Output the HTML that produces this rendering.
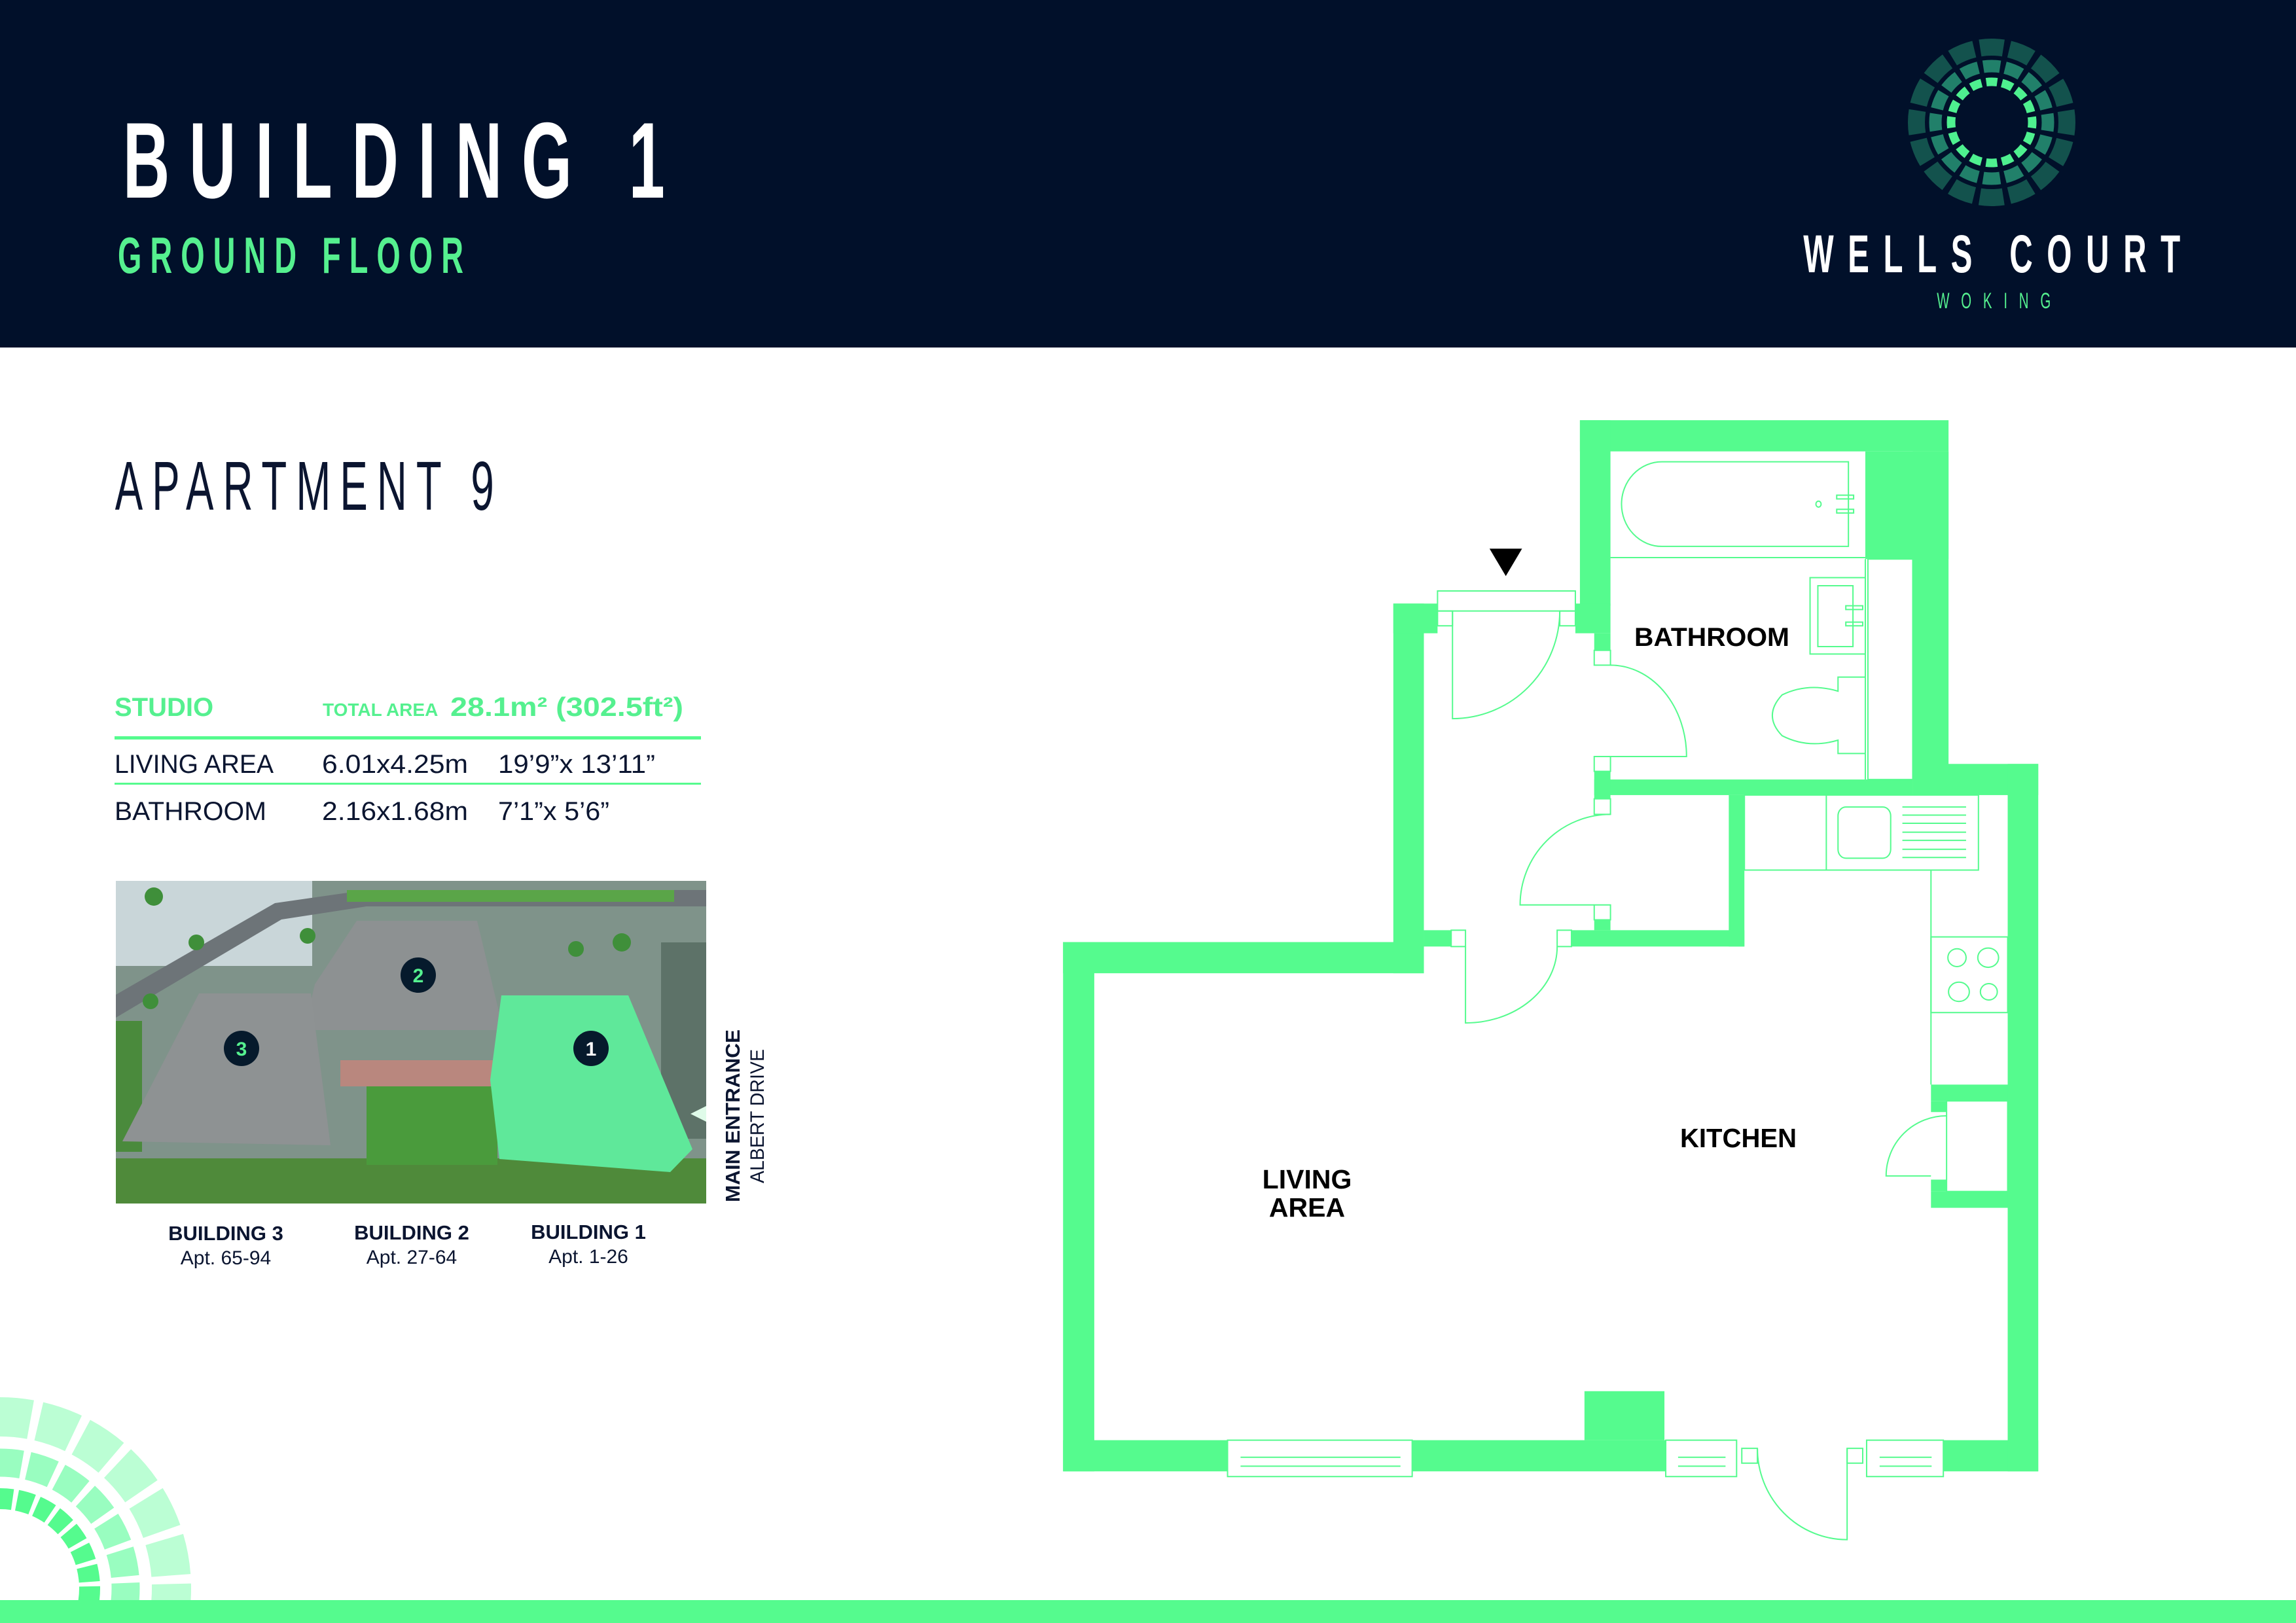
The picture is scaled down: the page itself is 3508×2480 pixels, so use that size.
<!DOCTYPE html>
<html><head><meta charset="utf-8"><style>
html,body{margin:0;padding:0;background:#fff;width:3508px;height:2480px;overflow:hidden}
svg{display:block}
.s{font-family:"Liberation Sans",sans-serif}
</style></head><body>
<svg width="3508" height="2480" viewBox="0 0 3508 2480" xmlns="http://www.w3.org/2000/svg">
<defs><clipPath id="ph"><rect x="177" y="1346" width="902" height="493"/></clipPath>
<clipPath id="q"><rect x="0" y="2000" width="400" height="445"/></clipPath></defs>
<rect width="3508" height="2480" fill="#fff"/>
<!-- header -->
<rect width="3508" height="531" fill="#01102a"/>
<g class="s" transform="scale(0.6,1)">
<text x="313" y="302" font-size="165" font-weight="bold" fill="#fff" textLength="1380" lengthAdjust="spacing">BUILDING 1</text>
<text x="300" y="417" font-size="78" font-weight="bold" fill="#55f08f" textLength="880" lengthAdjust="spacing">GROUND FLOOR</text>
<text x="4592" y="416" font-size="82" font-weight="bold" fill="#fff" textLength="960" lengthAdjust="spacing">WELLS COURT</text>
<text x="4932" y="471" font-size="34" fill="#55f08f" textLength="290" lengthAdjust="spacing">WOKING</text>
<text x="293" y="779" font-size="106" fill="#0b1530" textLength="965" lengthAdjust="spacing">APARTMENT 9</text>
</g>
<!-- logo -->
<g fill="none" transform="translate(3043,187) rotate(-90)">
<circle r="115" stroke="#13524d" stroke-width="26" stroke-dasharray="36 9.16" stroke-dashoffset="18"/>
<circle r="86" stroke="#21806a" stroke-width="19" stroke-dasharray="26 7.77" stroke-dashoffset="13"/>
<circle r="62" stroke="#4ef08f" stroke-width="13" stroke-dasharray="17 7.35" stroke-dashoffset="8.5"/>
</g>
<!-- table -->
<g class="s">
<text x="175" y="1094" font-size="40" font-weight="bold" fill="#55f08f">STUDIO</text>
<text x="493" y="1094" font-size="28" font-weight="bold" fill="#55f08f">TOTAL AREA</text>
<text x="688" y="1094" font-size="41" font-weight="bold" fill="#55f08f" textLength="356" lengthAdjust="spacingAndGlyphs">28.1m²  (302.5ft²)</text>
<rect x="175" y="1125" width="896" height="5" fill="#55fb8e"/>
<text x="175" y="1181" font-size="40" fill="#0b1530" textLength="243" lengthAdjust="spacingAndGlyphs">LIVING AREA</text>
<text x="492" y="1181" font-size="40" fill="#0b1530" textLength="223" lengthAdjust="spacingAndGlyphs">6.01x4.25m</text>
<text x="761" y="1181" font-size="40" fill="#0b1530" textLength="240" lengthAdjust="spacingAndGlyphs">19’9”x 13’11”</text>
<rect x="175" y="1196" width="896" height="3" fill="#55fb8e"/>
<text x="175" y="1253" font-size="40" fill="#0b1530" textLength="232" lengthAdjust="spacingAndGlyphs">BATHROOM</text>
<text x="492" y="1253" font-size="40" fill="#0b1530" textLength="223" lengthAdjust="spacingAndGlyphs">2.16x1.68m</text>
<text x="761" y="1253" font-size="40" fill="#0b1530" textLength="170" lengthAdjust="spacingAndGlyphs">7’1”x 5’6”</text>
</g>
<!-- aerial photo approximation -->
<g clip-path="url(#ph)">
<rect x="177" y="1346" width="902" height="493" fill="#7f938a"/>
<rect x="177" y="1346" width="300" height="130" fill="#c9d6d9"/>
<path d="M177,1520 L420,1380 L560,1360 L1079,1360 L1079,1385 L560,1385 L430,1405 L177,1555Z" fill="#6d7478"/>
<rect x="530" y="1360" width="500" height="18" fill="#5aa548"/>
<rect x="177" y="1560" width="40" height="200" fill="#4a8a3c"/>
<rect x="1010" y="1440" width="69" height="300" fill="#5d7268"/>
<rect x="177" y="1770" width="902" height="70" fill="#4f8a3a"/>
<rect x="560" y="1660" width="200" height="120" fill="#4a9b3c"/>
<rect x="520" y="1620" width="240" height="40" fill="#b9877e"/>
<path d="M545,1407 L729,1407 L769,1574 L465,1574 L481,1504Z" fill="#8d9192"/>
<path d="M304,1518 L475,1518 L505,1750 L187,1744 L217,1686Z" fill="#8e9293"/>
<path d="M766,1521 L960,1521 L1058,1756 L1024,1791 L763,1771 L749,1650Z" fill="#5fe89a"/>
<g fill="#3f8f3a"><circle cx="235" cy="1370" r="14"/><circle cx="300" cy="1440" r="12"/><circle cx="470" cy="1430" r="12"/><circle cx="880" cy="1450" r="12"/><circle cx="950" cy="1440" r="14"/><circle cx="230" cy="1530" r="12"/></g>
<circle cx="639" cy="1490" r="27" fill="#061a2c"/>
<circle cx="369" cy="1602" r="27" fill="#061a2c"/>
<circle cx="903" cy="1602" r="27" fill="#061a2c"/>
<text class="s" x="639" y="1501" font-size="30" font-weight="bold" fill="#55f08f" text-anchor="middle">2</text>
<text class="s" x="369" y="1613" font-size="30" font-weight="bold" fill="#55f08f" text-anchor="middle">3</text>
<text class="s" x="903" y="1613" font-size="30" font-weight="bold" fill="#fff" text-anchor="middle">1</text>
<path d="M1079,1690 L1055,1702 L1079,1714Z" fill="#dffbe9"/>
</g>
<text class="s" transform="translate(1130,1837) rotate(-90)" font-size="31" font-weight="bold" fill="#0b1530" textLength="264" lengthAdjust="spacingAndGlyphs">MAIN ENTRANCE</text>
<text class="s" transform="translate(1167,1808) rotate(-90)" font-size="30" fill="#0b1530" textLength="205" lengthAdjust="spacingAndGlyphs">ALBERT DRIVE</text>
<g class="s" text-anchor="middle" fill="#0b1530">
<text x="345" y="1895" font-size="31" font-weight="bold">BUILDING 3</text>
<text x="345" y="1932" font-size="30">Apt. 65-94</text>
<text x="629" y="1894" font-size="31" font-weight="bold">BUILDING 2</text>
<text x="629" y="1931" font-size="30">Apt. 27-64</text>
<text x="899" y="1893" font-size="31" font-weight="bold">BUILDING 1</text>
<text x="899" y="1930" font-size="30">Apt. 1-26</text>
</g>
<!-- bottom-left tiles -->
<g clip-path="url(#q)">
<g fill="none" transform="translate(0,2427) rotate(-92)">
<circle r="262" stroke="#bbfed4" stroke-width="60" stroke-dasharray="56 13"/>
<circle r="192" stroke="#99fdc0" stroke-width="43" stroke-dasharray="40 10"/>
<circle r="137" stroke="#55fb8e" stroke-width="32" stroke-dasharray="24 7"/>
</g></g>
<rect x="0" y="2445" width="3508" height="35" fill="#55fb8e"/>

<!-- floor plan (zoom coords) -->
<g transform="translate(1600.4,602.4) scale(0.9933,1.1343)">
<g fill="#55fb8e">
<rect x="819" y="35" width="567" height="42"/>
<rect x="819" y="35" width="47" height="250"/>
<rect x="812" y="282" width="54" height="40"/>
<rect x="841" y="322" width="25" height="23"/>
<rect x="1258" y="77" width="128" height="145"/>
<rect x="1331" y="77" width="55" height="463"/>
<rect x="1331" y="498" width="193" height="42"/>
<rect x="841" y="519" width="490" height="21"/>
<rect x="841" y="508" width="25" height="37"/>
<rect x="1048" y="540" width="24" height="204"/>
<rect x="579" y="722" width="42" height="22"/>
<rect x="806" y="722" width="266" height="22"/>
<rect x="841" y="708" width="25" height="14"/>
<rect x="532" y="282" width="47" height="498"/>
<rect x="532" y="282" width="68" height="40"/>
<rect x="24" y="738" width="555" height="42"/>
<rect x="24" y="738" width="48" height="713"/>
<rect x="24" y="1409" width="253" height="42"/>
<rect x="561" y="1409" width="390" height="42"/>
<rect x="1378" y="1409" width="146" height="42"/>
<rect x="826" y="1343" width="123" height="66"/>
<rect x="1477" y="498" width="47" height="953"/>
<rect x="1359" y="930" width="118" height="22"/>
<rect x="1359" y="1074" width="118" height="22"/>
<rect x="1359" y="952" width="24" height="15"/>
<rect x="1359" y="1058" width="24" height="16"/>
</g>
<g fill="none" stroke="#55fb8e" stroke-width="2">
<rect x="600" y="265" width="212" height="27" vector-effect="non-scaling-stroke"/>
<rect x="600" y="292" width="23" height="20" vector-effect="non-scaling-stroke"/>
<rect x="788" y="292" width="24" height="20" vector-effect="non-scaling-stroke"/>
<rect x="841" y="345" width="25" height="20" vector-effect="non-scaling-stroke"/>
<rect x="841" y="488" width="25" height="20" vector-effect="non-scaling-stroke"/>
<rect x="841" y="545" width="25" height="21" vector-effect="non-scaling-stroke"/>
<rect x="841" y="688" width="25" height="20" vector-effect="non-scaling-stroke"/>
<rect x="621" y="722" width="22" height="22" vector-effect="non-scaling-stroke"/>
<rect x="784" y="722" width="22" height="22" vector-effect="non-scaling-stroke"/>
<line x1="866" y1="220" x2="1258" y2="220" vector-effect="non-scaling-stroke"/>
<path d="M945,91 H1232 V205 H945 A62,57 0 0 1 945,91 Z" vector-effect="non-scaling-stroke"/>
<rect x="1214" y="136" width="26" height="5" vector-effect="non-scaling-stroke"/>
<rect x="1214" y="155" width="26" height="5" vector-effect="non-scaling-stroke"/>
<ellipse cx="1186" cy="148" rx="4" ry="4" vector-effect="non-scaling-stroke"/>
<rect x="1173" y="247" width="85" height="103" vector-effect="non-scaling-stroke"/>
<rect x="1185" y="258" width="54" height="82" vector-effect="non-scaling-stroke"/>
<rect x="1228" y="285" width="26" height="5" vector-effect="non-scaling-stroke"/>
<rect x="1228" y="307" width="26" height="5" vector-effect="non-scaling-stroke"/>
<rect x="1262" y="222" width="69" height="297" vector-effect="non-scaling-stroke"/>
<line x1="1258" y1="222" x2="1258" y2="519" vector-effect="non-scaling-stroke"/>
<path d="M1258,381 H1216 V400 Q1170,388 1130,405 Q1100,433 1130,460 Q1170,478 1216,466 V484 H1258" vector-effect="non-scaling-stroke"/>
<rect x="1072" y="540" width="360" height="101" vector-effect="non-scaling-stroke"/>
<line x1="1198" y1="540" x2="1198" y2="641" vector-effect="non-scaling-stroke"/>
<rect x="1216" y="556" width="81" height="69" rx="12" vector-effect="non-scaling-stroke"/>
<path d="M1315,556H1413M1315,567H1413M1315,578H1413M1315,590H1413M1315,601H1413M1315,613H1413M1315,624H1413" vector-effect="non-scaling-stroke"/>
<line x1="1359" y1="641" x2="1359" y2="930" vector-effect="non-scaling-stroke"/>
<rect x="1359" y="731" width="118" height="102" vector-effect="non-scaling-stroke"/>
<ellipse cx="1399" cy="759" rx="14" ry="12" vector-effect="non-scaling-stroke"/>
<ellipse cx="1447" cy="759" rx="16" ry="13" vector-effect="non-scaling-stroke"/>
<ellipse cx="1402" cy="805" rx="16" ry="13" vector-effect="non-scaling-stroke"/>
<ellipse cx="1448" cy="805" rx="13" ry="11" vector-effect="non-scaling-stroke"/>
<rect x="1383" y="952" width="94" height="122" vector-effect="non-scaling-stroke"/>
<rect x="277" y="1409" width="284" height="49" vector-effect="non-scaling-stroke"/>
<path d="M297,1432 H543 M297,1444 H543" vector-effect="non-scaling-stroke"/>
<rect x="951" y="1409" width="109" height="49" vector-effect="non-scaling-stroke"/>
<path d="M970,1432 H1043 M970,1444 H1043" vector-effect="non-scaling-stroke"/>
<rect x="1260" y="1409" width="118" height="49" vector-effect="non-scaling-stroke"/>
<path d="M1280,1432 H1360 M1280,1444 H1360" vector-effect="non-scaling-stroke"/>
<rect x="1068" y="1420" width="24" height="20" vector-effect="non-scaling-stroke"/>
<rect x="1230" y="1420" width="24" height="20" vector-effect="non-scaling-stroke"/>
<path d="M623,292 V437 A165,145 0 0 0 788,292" vector-effect="non-scaling-stroke"/>
<path d="M866,365 A117,123 0 0 1 983,488 H866" vector-effect="non-scaling-stroke"/>
<path d="M841,688 H727 A139,122 0 0 1 866,566" vector-effect="non-scaling-stroke"/>
<path d="M643,744 V847 A141,103 0 0 0 784,744" vector-effect="non-scaling-stroke"/>
<path d="M1359,1053 H1290 A93,81 0 0 1 1383,972" vector-effect="non-scaling-stroke"/>
<path d="M1092,1420 A138,123 0 0 0 1230,1543 V1420" vector-effect="non-scaling-stroke"/>
</g>
<path d="M680,208 L730,208 L705,245Z" fill="#000"/>
</g>
<g class="s" font-weight="bold" fill="#000">
<text x="2497" y="987" font-size="40" textLength="237" lengthAdjust="spacingAndGlyphs">BATHROOM</text>
<text x="2567" y="1753" font-size="41" textLength="178" lengthAdjust="spacingAndGlyphs">KITCHEN</text>
<text x="1997" y="1816" font-size="41" text-anchor="middle">LIVING</text>
<text x="1997" y="1859" font-size="41" text-anchor="middle">AREA</text>
</g>
</svg>
</body></html>
